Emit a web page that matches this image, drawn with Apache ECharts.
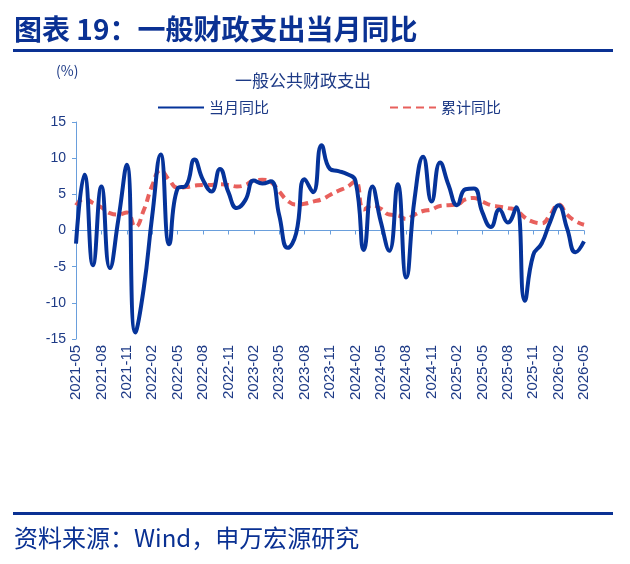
<!DOCTYPE html>
<html>
<head>
<meta charset="utf-8">
<script src="https://cdn.jsdelivr.net/npm/echarts@6/dist/echarts.min.js"></script>
<style>
  html, body { margin: 0; padding: 0; background: #fff; }
  #chart { width: 630px; height: 564px; }
</style>
</head>
<body>
<div id="chart"></div>
<script>
// 月份（2021-05 ~ 2026-05）
var months = [
  '2021-05', '2021-06', '2021-07', '2021-08', '2021-09', '2021-10', '2021-11', '2021-12',
  '2022-01', '2022-02', '2022-03', '2022-04', '2022-05', '2022-06', '2022-07', '2022-08',
  '2022-09', '2022-10', '2022-11', '2022-12', '2023-01', '2023-02', '2023-03', '2023-04',
  '2023-05', '2023-06', '2023-07', '2023-08', '2023-09', '2023-10', '2023-11', '2023-12',
  '2024-01', '2024-02', '2024-03', '2024-04', '2024-05', '2024-06', '2024-07', '2024-08',
  '2024-09', '2024-10', '2024-11', '2024-12', '2025-01', '2025-02', '2025-03', '2025-04',
  '2025-05', '2025-06', '2025-07', '2025-08', '2025-09', '2025-10', '2025-11', '2025-12',
  '2026-01', '2026-02', '2026-03', '2026-04', '2026-05'
]

// 当月同比 (%)
var monthYoy = [
  -1.8, 7.7, -4.8, 6.1, -5.2, 1.5, 9.1, -14.1,
  -8.0, 2.0, 10.5, -1.9, 5.8, 6.2, 9.8, 7.0,
  5.4, 8.5, 5.3, 3.1, 4.2, 6.9, 6.5, 6.8,
  2.1, -2.4, -0.4, 7.1, 5.3, 11.8, 8.5, 8.2,
  7.8, 6.9, -2.7, 6.1, 1.2, -2.8, 6.4, -6.5,
  4.5, 10.2, 4.0, 9.4, 6.3, 3.5, 5.7, 5.8,
  2.5, 0.5, 2.9, 1.1, 3.2, -9.7, -3.4, -1.8,
  1.2, 3.5, 0.3, -3.0, -1.5
]

// 累计同比 (%)
var cumYoy = [
  3.5, 4.4, 3.8, 3.2, 2.4, 2.2, 2.5, 0.5,
  2.8, 6.2, 8.3, 7.0, 5.9, 6.0, 6.2, 6.3,
  6.3, 6.4, 6.3, 6.1, 6.3, 6.9, 7.0, 6.7,
  5.4, 4.1, 3.6, 3.7, 4.0, 4.3, 4.9, 5.5,
  6.0, 6.8, 2.9, 3.5, 3.0, 2.2, 2.1, 1.6,
  2.2, 2.7, 2.9, 3.4, 3.5, 3.6, 4.3, 4.5,
  4.0, 3.5, 3.3, 3.1, 2.8, 1.8, 1.2, 1.0,
  2.2, 3.6, 2.2, 1.3, 0.8
]

var yTicks = { min: -15, max: 15, interval: 5 }

var navy = '#0a3193'
var axisBlue = '#6a9fdc'
var cjk = '"Noto Sans CJK SC", "Noto Sans", sans-serif'
var latin = 'Arial, "Liberation Sans", sans-serif'

var chart = echarts.init(document.getElementById('chart'))

chart.setOption({
  backgroundColor: '#fff',
  animation: false,
  textStyle: { fontFamily: cjk },
  graphic: [
    {
      type: 'text', left: 14, top: 15,
      style: { text: '图表 19：一般财政支出当月同比', fill: navy, font: 'bold 28px ' + cjk }
    },
    {
      type: 'rect', shape: { x: 13, y: 49, width: 600, height: 3 },
      style: { fill: navy }
    },
    {
      type: 'text', left: 56, top: 64,
      style: { text: '(%)', fill: '#1d3a86', font: '14px ' + cjk }
    },
    {
      type: 'rect', shape: { x: 13, y: 512, width: 600, height: 3 },
      style: { fill: navy }
    },
    {
      type: 'text', left: 14, top: 526,
      style: { text: '资料来源：Wind，申万宏源研究', fill: navy, font: '24px ' + cjk }
    }
  ],
  title: {
    text: '一般公共财政支出',
    left: 230,
    top: 67,
    textStyle: { color: '#1d3a86', fontSize: 17, fontWeight: 'normal', fontFamily: cjk }
  },
  legend: {
    top: 95,
    left: 152,
    itemWidth: 46,
    itemHeight: 4,
    itemGap: 120,
    itemStyle: { opacity: 0 },
    textStyle: { color: '#1d3a86', fontSize: 15, fontFamily: cjk },
    data: ['当月同比', '累计同比']
  },
  grid: { left: 76, right: 46, top: 122, bottom: 225 },
  xAxis: [
    {
      type: 'category',
      data: months,
      boundaryGap: false,
      axisLine: { show: false, onZero: false },
      axisTick: { show: false },
      axisLabel: {
        interval: 2,
        rotate: 90,
        margin: 6,
        color: '#1d3a86',
        fontSize: 15,
        fontFamily: latin
      }
    },
    {
      type: 'category',
      data: months,
      boundaryGap: false,
      position: 'bottom',
      axisLine: { show: true, onZero: true, lineStyle: { color: axisBlue, width: 1 } },
      axisTick: { show: true, interval: 2, length: 4, lineStyle: { color: axisBlue } },
      axisLabel: { show: false }
    }
  ],
  yAxis: {
    type: 'value',
    min: yTicks.min,
    max: yTicks.max,
    interval: yTicks.interval,
    axisLine: { show: true, lineStyle: { color: axisBlue } },
    axisTick: { show: true, length: 4, lineStyle: { color: axisBlue } },
    splitLine: { show: false },
    axisLabel: {
      color: '#1d3a86',
      fontSize: 14,
      margin: 10,
      fontFamily: latin
    }
  },
  series: [
    {
      name: '当月同比',
      type: 'line',
      data: monthYoy,
      smooth: true,
      symbol: 'none',
      lineStyle: { color: '#05339a', width: 4 },
      itemStyle: { color: '#05339a' },
      z: 3
    },
    {
      name: '累计同比',
      type: 'line',
      data: cumYoy,
      smooth: true,
      symbol: 'none',
      lineStyle: { color: '#e8605c', width: 4, type: [8, 5] },
      itemStyle: { color: '#e8605c' },
      z: 2
    }
  ]
})
</script>
</body>
</html>
